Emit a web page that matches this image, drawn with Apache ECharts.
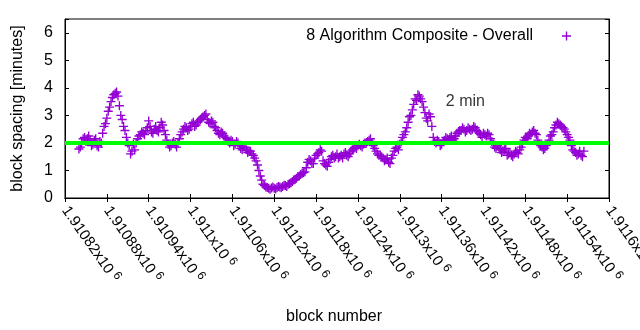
<!DOCTYPE html>
<html>
<head>
<meta charset="utf-8">
<script src="https://cdn.jsdelivr.net/npm/echarts@6/dist/echarts.min.js"></script>
<style>
  html, body { margin: 0; padding: 0; background: #fff; }
  #chart { width: 640px; height: 330px; }
</style>
</head>
<body>
<div id="chart"></div>
<script>
// Block spacing (moving average, minutes)
const seriesName = '8 Algorithm Composite - Overall';
const blockStep = 4;

// blocks 1910840, 1910844, 1910848, ...
const startA = 1910840;
const spacingA = [
  1.78, 2.00, 2.20, 2.15, 2.10, 1.95, 2.15, 1.85, 2.00, 2.60,
  2.90, 3.30, 3.65, 3.80, 3.70, 3.00, 2.60, 2.20, 1.90, 1.70, 1.75,
  2.15, 2.30, 2.35, 2.45, 2.80, 2.40, 2.50, 2.45, 2.55, 2.65,
  2.30, 1.95, 1.90, 2.05, 1.85, 2.15, 2.40, 2.60, 2.45, 2.60,
  2.75, 2.65, 2.80, 2.90, 3.00, 2.85, 2.70, 2.75, 2.55, 2.35,
  2.40, 2.25, 2.15, 2.00, 2.05, 1.95, 2.00, 1.80, 1.85, 1.75, 1.70,
  1.60, 1.45, 1.20, 0.80, 0.50, 0.40, 0.35, 0.36, 0.35, 0.38,
  0.40, 0.42, 0.45, 0.50, 0.55, 0.65, 0.72, 0.80, 0.90, 0.95,
  1.30, 1.35, 1.25, 1.55, 1.65, 1.70, 1.25, 1.15, 1.40, 1.55,
  1.50, 1.45, 1.55, 1.60, 1.55, 1.60, 1.75, 1.85, 1.90, 1.90, 1.95,
  2.00, 2.10, 2.00, 1.80, 1.60, 1.55, 1.45, 1.40, 1.30, 1.45,
  1.70, 1.85, 1.95, 2.20, 2.40, 2.75, 3.00, 3.40, 3.55, 3.70,
  3.50, 3.10, 2.80, 2.95, 2.20, 2.00, 2.05, 1.95, 2.10, 2.15,
  2.20, 2.10, 2.25, 2.40, 2.45, 2.50, 2.45, 2.50, 2.50, 2.55, 2.40,
  2.30, 2.35, 2.25, 2.30, 2.05, 1.85, 1.90, 1.75, 1.70, 1.80,
  1.60, 1.55, 1.60, 1.65, 1.75, 1.95, 2.20, 2.25, 2.30, 2.45,
  2.30, 1.95, 1.85, 1.80, 1.95, 2.25, 2.40, 2.65, 2.70, 2.60,
  2.50, 2.30, 2.10, 1.75, 1.65, 1.60, 1.55, 1.70
];

// blocks 1910842, 1910846, 1910850, ...
const startB = 1910842;
const spacingB = [
  1.85, 2.15, 2.05, 2.25, 1.90, 2.10, 1.90, 2.05, 2.35, 2.70,
  3.15, 3.50, 3.75, 3.85, 3.35, 2.85, 2.45, 2.00, 1.60, 1.95,
  2.00, 2.25, 2.40, 2.30, 2.55, 2.60, 2.35, 2.60, 2.40, 2.75,
  2.45, 2.10, 1.85, 2.00, 1.95, 2.00, 2.30, 2.50, 2.55, 2.50,
  2.70, 2.60, 2.75, 2.85, 2.95, 3.05, 2.75, 2.80, 2.60, 2.45,
  2.30, 2.35, 2.20, 2.05, 2.10, 1.90, 2.05, 1.90, 1.75, 1.85,
  1.65, 1.70, 1.55, 1.35, 1.00, 0.65, 0.45, 0.38, 0.32, 0.40,
  0.33, 0.42, 0.37, 0.46, 0.42, 0.52, 0.60, 0.68, 0.78, 0.85,
  0.92, 1.10, 1.40, 1.25, 1.45, 1.60, 1.75, 1.35, 1.20, 1.30,
  1.50, 1.45, 1.60, 1.50, 1.45, 1.65, 1.50, 1.70, 1.80, 1.80,
  1.95, 1.85, 2.00, 2.05, 2.15, 1.90, 1.70, 1.55, 1.50, 1.35,
  1.45, 1.25, 1.55, 1.80, 1.75, 2.05, 2.30, 2.55, 2.95, 3.20,
  3.60, 3.75, 3.60, 3.30, 2.90, 3.05, 2.60, 2.05, 2.10, 1.90,
  2.05, 2.20, 2.10, 2.25, 2.15, 2.35, 2.45, 2.55, 2.40, 2.55,
  2.45, 2.60, 2.45, 2.35, 2.20, 2.30, 2.35, 2.15, 1.95, 1.80,
  1.85, 1.65, 1.75, 1.55, 1.65, 1.50, 1.70, 1.60, 1.85, 2.10,
  2.15, 2.35, 2.40, 2.35, 2.10, 1.90, 1.75, 1.90, 2.10, 2.30,
  2.55, 2.75, 2.65, 2.55, 2.40, 2.20, 1.90, 1.70, 1.55, 1.70,
  1.50
];

// Axes
const xMin = 1910820, xMax = 1911600, xStep = 60;
const yMin = 0, yMax = 6.5, yStep = 1;

// Reference level and its caption
const targetMinutes = 2;
const targetLabel = '2 min';
const targetLabelAt = [1911366, 3.5];

const points = spacingA.map((v, i) => [startA + i * blockStep, v])
  .concat(spacingB.map((v, i) => [startB + i * blockStep, v]))
  .sort((a, b) => a[0] - b[0]);

const FONT = 'Liberation Sans';
const PLUS = 'path://M4.25,0H5.75V4.25H10V5.75H5.75V10H4.25V5.75H0V4.25H4.25Z';
const PURPLE = '#9400d3';

function fmtX(v) {
  const s = (v / 1e6).toFixed(5).replace(/0+$/, '').replace(/\.$/, '');
  return '{m|' + s + 'x10}{e|6}';
}

const chart = echarts.init(document.getElementById('chart'), null, { renderer: 'canvas' });

const tickStyle = { show: true, inside: true, length: 4, lineStyle: { color: '#000', width: 1 } };

chart.setOption({
  animation: false,
  backgroundColor: '#fff',
  grid: {
    left: 65, right: 31, top: 19, bottom: 132,
    outerBoundsMode: 'none', containLabel: false,
    show: true, borderColor: '#000', borderWidth: 1, backgroundColor: 'transparent'
  },
  legend: {
    data: [{ name: seriesName, icon: PLUS }],
    right: 64, top: 23,
    align: 'right',
    itemWidth: 9, itemHeight: 9,
    textStyle: { fontFamily: FONT, fontSize: 16, color: '#000', padding: [0, 24, 0, 0] },
    selectedMode: false
  },
  xAxis: [{
    type: 'value', min: xMin, max: xMax, interval: xStep,
    name: 'block number', nameLocation: 'middle', nameGap: 111,
    nameTextStyle: { fontFamily: FONT, fontSize: 16, color: '#000', padding: [0, 6, 0, 0] },
    axisLine: { show: true, onZero: false, lineStyle: { color: '#000' } },
    axisTick: tickStyle,
    splitLine: { show: false },
    axisLabel: {
      rotate: -55, margin: 10, showMinLabel: true, showMaxLabel: true,
      formatter: fmtX,
      rich: {
        m: { fontFamily: FONT, fontSize: 15, color: '#000' },
        e: { fontFamily: FONT, fontSize: 12, color: '#000', padding: [0, 0, 8, 4] }
      }
    }
  }, {
    type: 'value', position: 'top', min: xMin, max: xMax, interval: xStep,
    axisLine: { show: true, lineStyle: { color: '#000' } },
    axisTick: tickStyle, axisLabel: { show: false }, splitLine: { show: false }
  }],
  yAxis: [{
    type: 'value', min: yMin, max: yMax, interval: yStep,
    name: 'block spacing [minutes]', nameLocation: 'middle', nameGap: 39,
    nameTextStyle: { fontFamily: FONT, fontSize: 16, color: '#000' },
    axisLine: { show: true, onZero: false, lineStyle: { color: '#000' } },
    axisTick: tickStyle,
    splitLine: { show: false },
    axisLabel: {
      margin: 12, fontFamily: FONT, fontSize: 16, color: '#000',
      formatter: v => (Number.isInteger(v) ? String(v) : '')
    }
  }, {
    type: 'value', position: 'right', min: yMin, max: yMax, interval: yStep,
    axisLine: { show: true, lineStyle: { color: '#000' } },
    axisTick: tickStyle, axisLabel: { show: false }, splitLine: { show: false }
  }],
  series: [{
    name: seriesName,
    type: 'scatter',
    data: points,
    symbol: PLUS,
    symbolSize: 9,
    itemStyle: { color: PURPLE, opacity: 1 },
    z: 2
  }, {
    name: 'target',
    type: 'line',
    data: [[xMin, targetMinutes], [xMax, targetMinutes]],
    showSymbol: false,
    lineStyle: { color: '#00ff00', width: 4 },
    z: 3
  }, {
    name: 'caption',
    type: 'scatter',
    data: [targetLabelAt],
    symbolSize: 0,
    label: {
      show: true, position: 'right', distance: 0,
      formatter: targetLabel,
      fontFamily: FONT, fontSize: 16, color: '#000'
    },
    z: 4
  }]
});
</script>
</body>
</html>
